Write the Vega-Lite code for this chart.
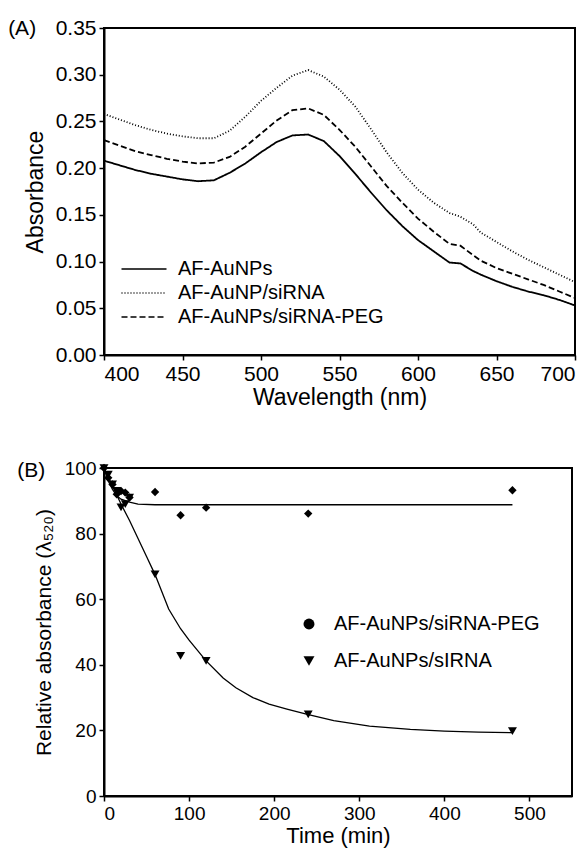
{
  "$schema": "https://vega.github.io/schema/vega-lite/v6.json",
  "background": "white",
  "padding": {"left": 7, "top": 16, "right": 5, "bottom": 5},
  "spacing": 48,
  "resolve": {"legend": {"shape": "independent", "strokeDash": "independent"}},
  "config": {
    "font": "Liberation Sans",
    "view": {"stroke": "black", "strokeWidth": 2},
    "axis": {"domainColor": "black", "domainWidth": 2, "tickColor": "black", "tickWidth": 1.5, "tickSize": 5, "labelColor": "black", "titleColor": "black", "labelFontSize": 20, "titleFontSize": 22, "titleFontWeight": "normal", "grid": false, "labelFont": "Liberation Sans", "titleFont": "Liberation Sans", "labelPadding": 3},
    "legend": {"labelFont": "Liberation Sans", "labelFontSize": 20, "labelColor": "black", "labelLimit": 0},
    "title": {"font": "Liberation Sans", "fontSize": 21, "fontWeight": "normal", "color": "black"}
  },
  "datasets": {
    "spectra": [
      {"w": 400, "a": 0.208, "s": "AF-AuNPs"}, {"w": 410, "a": 0.203, "s": "AF-AuNPs"}, {"w": 420, "a": 0.198, "s": "AF-AuNPs"}, {"w": 430, "a": 0.194, "s": "AF-AuNPs"}, {"w": 440, "a": 0.191, "s": "AF-AuNPs"}, {"w": 450, "a": 0.188, "s": "AF-AuNPs"}, {"w": 460, "a": 0.186, "s": "AF-AuNPs"}, {"w": 470, "a": 0.187, "s": "AF-AuNPs"}, {"w": 480, "a": 0.195, "s": "AF-AuNPs"}, {"w": 490, "a": 0.205, "s": "AF-AuNPs"}, {"w": 500, "a": 0.217, "s": "AF-AuNPs"}, {"w": 510, "a": 0.228, "s": "AF-AuNPs"}, {"w": 520, "a": 0.235, "s": "AF-AuNPs"}, {"w": 530, "a": 0.236, "s": "AF-AuNPs"}, {"w": 540, "a": 0.229, "s": "AF-AuNPs"}, {"w": 550, "a": 0.213, "s": "AF-AuNPs"}, {"w": 560, "a": 0.194, "s": "AF-AuNPs"}, {"w": 570, "a": 0.174, "s": "AF-AuNPs"}, {"w": 580, "a": 0.155, "s": "AF-AuNPs"}, {"w": 590, "a": 0.138, "s": "AF-AuNPs"}, {"w": 600, "a": 0.123, "s": "AF-AuNPs"}, {"w": 610, "a": 0.111, "s": "AF-AuNPs"}, {"w": 620, "a": 0.099, "s": "AF-AuNPs"}, {"w": 627, "a": 0.098, "s": "AF-AuNPs"}, {"w": 635, "a": 0.09, "s": "AF-AuNPs"}, {"w": 640, "a": 0.086, "s": "AF-AuNPs"}, {"w": 650, "a": 0.079, "s": "AF-AuNPs"}, {"w": 660, "a": 0.073, "s": "AF-AuNPs"}, {"w": 670, "a": 0.068, "s": "AF-AuNPs"}, {"w": 680, "a": 0.064, "s": "AF-AuNPs"}, {"w": 690, "a": 0.059, "s": "AF-AuNPs"}, {"w": 700, "a": 0.053, "s": "AF-AuNPs"},
      {"w": 400, "a": 0.258, "s": "AF-AuNP/siRNA"}, {"w": 410, "a": 0.252, "s": "AF-AuNP/siRNA"}, {"w": 420, "a": 0.246, "s": "AF-AuNP/siRNA"}, {"w": 430, "a": 0.241, "s": "AF-AuNP/siRNA"}, {"w": 440, "a": 0.237, "s": "AF-AuNP/siRNA"}, {"w": 450, "a": 0.234, "s": "AF-AuNP/siRNA"}, {"w": 460, "a": 0.232, "s": "AF-AuNP/siRNA"}, {"w": 470, "a": 0.232, "s": "AF-AuNP/siRNA"}, {"w": 480, "a": 0.24, "s": "AF-AuNP/siRNA"}, {"w": 490, "a": 0.255, "s": "AF-AuNP/siRNA"}, {"w": 500, "a": 0.272, "s": "AF-AuNP/siRNA"}, {"w": 510, "a": 0.286, "s": "AF-AuNP/siRNA"}, {"w": 520, "a": 0.299, "s": "AF-AuNP/siRNA"}, {"w": 530, "a": 0.305, "s": "AF-AuNP/siRNA"}, {"w": 540, "a": 0.298, "s": "AF-AuNP/siRNA"}, {"w": 550, "a": 0.284, "s": "AF-AuNP/siRNA"}, {"w": 560, "a": 0.266, "s": "AF-AuNP/siRNA"}, {"w": 570, "a": 0.242, "s": "AF-AuNP/siRNA"}, {"w": 580, "a": 0.217, "s": "AF-AuNP/siRNA"}, {"w": 590, "a": 0.195, "s": "AF-AuNP/siRNA"}, {"w": 600, "a": 0.177, "s": "AF-AuNP/siRNA"}, {"w": 610, "a": 0.163, "s": "AF-AuNP/siRNA"}, {"w": 620, "a": 0.152, "s": "AF-AuNP/siRNA"}, {"w": 627, "a": 0.148, "s": "AF-AuNP/siRNA"}, {"w": 635, "a": 0.14, "s": "AF-AuNP/siRNA"}, {"w": 640, "a": 0.131, "s": "AF-AuNP/siRNA"}, {"w": 650, "a": 0.121, "s": "AF-AuNP/siRNA"}, {"w": 660, "a": 0.111, "s": "AF-AuNP/siRNA"}, {"w": 670, "a": 0.102, "s": "AF-AuNP/siRNA"}, {"w": 680, "a": 0.094, "s": "AF-AuNP/siRNA"}, {"w": 690, "a": 0.086, "s": "AF-AuNP/siRNA"}, {"w": 700, "a": 0.078, "s": "AF-AuNP/siRNA"},
      {"w": 400, "a": 0.23, "s": "AF-AuNPs/siRNA-PEG"}, {"w": 410, "a": 0.224, "s": "AF-AuNPs/siRNA-PEG"}, {"w": 420, "a": 0.218, "s": "AF-AuNPs/siRNA-PEG"}, {"w": 430, "a": 0.214, "s": "AF-AuNPs/siRNA-PEG"}, {"w": 440, "a": 0.21, "s": "AF-AuNPs/siRNA-PEG"}, {"w": 450, "a": 0.207, "s": "AF-AuNPs/siRNA-PEG"}, {"w": 460, "a": 0.205, "s": "AF-AuNPs/siRNA-PEG"}, {"w": 470, "a": 0.206, "s": "AF-AuNPs/siRNA-PEG"}, {"w": 480, "a": 0.212, "s": "AF-AuNPs/siRNA-PEG"}, {"w": 490, "a": 0.223, "s": "AF-AuNPs/siRNA-PEG"}, {"w": 500, "a": 0.237, "s": "AF-AuNPs/siRNA-PEG"}, {"w": 510, "a": 0.251, "s": "AF-AuNPs/siRNA-PEG"}, {"w": 520, "a": 0.262, "s": "AF-AuNPs/siRNA-PEG"}, {"w": 530, "a": 0.264, "s": "AF-AuNPs/siRNA-PEG"}, {"w": 540, "a": 0.257, "s": "AF-AuNPs/siRNA-PEG"}, {"w": 550, "a": 0.241, "s": "AF-AuNPs/siRNA-PEG"}, {"w": 560, "a": 0.223, "s": "AF-AuNPs/siRNA-PEG"}, {"w": 570, "a": 0.202, "s": "AF-AuNPs/siRNA-PEG"}, {"w": 580, "a": 0.181, "s": "AF-AuNPs/siRNA-PEG"}, {"w": 590, "a": 0.163, "s": "AF-AuNPs/siRNA-PEG"}, {"w": 600, "a": 0.146, "s": "AF-AuNPs/siRNA-PEG"}, {"w": 610, "a": 0.132, "s": "AF-AuNPs/siRNA-PEG"}, {"w": 620, "a": 0.119, "s": "AF-AuNPs/siRNA-PEG"}, {"w": 627, "a": 0.117, "s": "AF-AuNPs/siRNA-PEG"}, {"w": 635, "a": 0.107, "s": "AF-AuNPs/siRNA-PEG"}, {"w": 640, "a": 0.101, "s": "AF-AuNPs/siRNA-PEG"}, {"w": 650, "a": 0.093, "s": "AF-AuNPs/siRNA-PEG"}, {"w": 660, "a": 0.087, "s": "AF-AuNPs/siRNA-PEG"}, {"w": 670, "a": 0.081, "s": "AF-AuNPs/siRNA-PEG"}, {"w": 680, "a": 0.075, "s": "AF-AuNPs/siRNA-PEG"}, {"w": 690, "a": 0.068, "s": "AF-AuNPs/siRNA-PEG"}, {"w": 700, "a": 0.061, "s": "AF-AuNPs/siRNA-PEG"}
    ],
    "fits": [
      {"t": 0, "v": 100, "s": "AF-AuNPs/siRNA-PEG"}, {"t": 5, "v": 96, "s": "AF-AuNPs/siRNA-PEG"}, {"t": 10, "v": 93.5, "s": "AF-AuNPs/siRNA-PEG"}, {"t": 15, "v": 91.5, "s": "AF-AuNPs/siRNA-PEG"}, {"t": 20, "v": 90.5, "s": "AF-AuNPs/siRNA-PEG"}, {"t": 30, "v": 89.6, "s": "AF-AuNPs/siRNA-PEG"}, {"t": 40, "v": 89, "s": "AF-AuNPs/siRNA-PEG"}, {"t": 60, "v": 88.8, "s": "AF-AuNPs/siRNA-PEG"}, {"t": 480, "v": 88.8, "s": "AF-AuNPs/siRNA-PEG"},
      {"t": 0, "v": 100, "s": "AF-AuNPs/sIRNA"}, {"t": 10, "v": 94.5, "s": "AF-AuNPs/sIRNA"}, {"t": 20, "v": 89, "s": "AF-AuNPs/sIRNA"}, {"t": 30, "v": 84, "s": "AF-AuNPs/sIRNA"}, {"t": 40, "v": 78.5, "s": "AF-AuNPs/sIRNA"}, {"t": 50, "v": 73, "s": "AF-AuNPs/sIRNA"}, {"t": 60, "v": 67.5, "s": "AF-AuNPs/sIRNA"}, {"t": 76, "v": 57, "s": "AF-AuNPs/sIRNA"}, {"t": 90, "v": 51, "s": "AF-AuNPs/sIRNA"}, {"t": 100, "v": 47.5, "s": "AF-AuNPs/sIRNA"}, {"t": 120, "v": 41.2, "s": "AF-AuNPs/sIRNA"}, {"t": 140, "v": 36, "s": "AF-AuNPs/sIRNA"}, {"t": 155, "v": 33, "s": "AF-AuNPs/sIRNA"}, {"t": 175, "v": 30, "s": "AF-AuNPs/sIRNA"}, {"t": 194, "v": 28, "s": "AF-AuNPs/sIRNA"}, {"t": 215, "v": 26.5, "s": "AF-AuNPs/sIRNA"}, {"t": 239, "v": 24.9, "s": "AF-AuNPs/sIRNA"}, {"t": 270, "v": 23, "s": "AF-AuNPs/sIRNA"}, {"t": 312, "v": 21.3, "s": "AF-AuNPs/sIRNA"}, {"t": 360, "v": 20.3, "s": "AF-AuNPs/sIRNA"}, {"t": 400, "v": 19.8, "s": "AF-AuNPs/sIRNA"}, {"t": 440, "v": 19.5, "s": "AF-AuNPs/sIRNA"}, {"t": 480, "v": 19.3, "s": "AF-AuNPs/sIRNA"}
    ],
    "points": [
      {"t": 0, "v": 100, "s": "AF-AuNPs/siRNA-PEG"}, {"t": 5, "v": 97, "s": "AF-AuNPs/siRNA-PEG"}, {"t": 10, "v": 95, "s": "AF-AuNPs/siRNA-PEG"}, {"t": 15, "v": 92, "s": "AF-AuNPs/siRNA-PEG"}, {"t": 20, "v": 93, "s": "AF-AuNPs/siRNA-PEG"}, {"t": 25, "v": 92.5, "s": "AF-AuNPs/siRNA-PEG"}, {"t": 30, "v": 91, "s": "AF-AuNPs/siRNA-PEG"}, {"t": 60, "v": 92.7, "s": "AF-AuNPs/siRNA-PEG"}, {"t": 90, "v": 85.6, "s": "AF-AuNPs/siRNA-PEG"}, {"t": 120, "v": 87.9, "s": "AF-AuNPs/siRNA-PEG"}, {"t": 240, "v": 86.1, "s": "AF-AuNPs/siRNA-PEG"}, {"t": 480, "v": 93.2, "s": "AF-AuNPs/siRNA-PEG"},
      {"t": 0, "v": 100, "s": "AF-AuNPs/sIRNA"}, {"t": 5, "v": 98, "s": "AF-AuNPs/sIRNA"}, {"t": 10, "v": 95, "s": "AF-AuNPs/sIRNA"}, {"t": 15, "v": 93, "s": "AF-AuNPs/sIRNA"}, {"t": 20, "v": 88, "s": "AF-AuNPs/sIRNA"}, {"t": 25, "v": 89, "s": "AF-AuNPs/sIRNA"}, {"t": 30, "v": 91, "s": "AF-AuNPs/sIRNA"}, {"t": 60, "v": 67.6, "s": "AF-AuNPs/sIRNA"}, {"t": 90, "v": 42.7, "s": "AF-AuNPs/sIRNA"}, {"t": 120, "v": 41.2, "s": "AF-AuNPs/sIRNA"}, {"t": 240, "v": 24.9, "s": "AF-AuNPs/sIRNA"}, {"t": 480, "v": 19.8, "s": "AF-AuNPs/sIRNA"}
    ]
  },
  "vconcat": [
    {
      "width": 471,
      "height": 327,
      "title": {"text": "(A)", "anchor": "start", "frame": "bounds", "offset": -22, "dx": -16},
      "data": {"name": "spectra"},
      "mark": {"type": "line", "color": "black", "strokeWidth": 1.8},
      "encoding": {
        "x": {"field": "w", "type": "quantitative", "scale": {"domain": [400, 700], "nice": false}, "axis": {"values": [400, 450, 500, 550, 600, 650, 700], "title": "Wavelength (nm)", "titlePadding": 2, "labelFontSize": 21, "titleFontSize": 23}},
        "y": {"field": "a", "type": "quantitative", "scale": {"domain": [0, 0.35], "nice": false}, "axis": {"values": [0, 0.05, 0.1, 0.15, 0.2, 0.25, 0.3, 0.35], "format": ".2f", "title": "Absorbance", "titlePadding": 8, "labelFontSize": 21, "titleFontSize": 23}},
        "strokeDash": {
          "field": "s", "type": "nominal",
          "scale": {"domain": ["AF-AuNPs", "AF-AuNP/siRNA", "AF-AuNPs/siRNA-PEG"], "range": [[1, 0], [1, 2], [6, 3]]},
          "legend": {"title": null, "orient": "none", "legendX": 30, "legendY": 231, "symbolType": "M-3,0H3", "symbolSize": 225, "symbolStrokeColor": "black", "symbolStrokeWidth": 1.5, "rowPadding": 4, "labelOffset": 24, "labelFontSize": 20}
        },
        "strokeWidth": {"field": "s", "type": "nominal", "scale": {"domain": ["AF-AuNPs", "AF-AuNP/siRNA", "AF-AuNPs/siRNA-PEG"], "range": [1.8, 1, 2]}, "legend": null}
      }
    },
    {
      "width": 468,
      "height": 328,
      "title": {"text": "(B)", "anchor": "start", "frame": "bounds", "offset": -22, "dx": -16},
      "layer": [
        {
          "data": {"name": "fits"},
          "mark": {"type": "line", "color": "black", "strokeWidth": 1.3},
          "encoding": {
            "x": {"field": "t", "type": "quantitative", "scale": {"domain": [0, 550], "nice": false}, "axis": {"values": [0, 100, 200, 300, 400, 500], "title": "Time (min)", "titlePadding": 2, "labelFontSize": 19, "titleFontSize": 22}},
            "y": {"field": "v", "type": "quantitative", "scale": {"domain": [0, 100], "nice": false}, "axis": {"values": [0, 20, 40, 60, 80, 100], "title": "Relative absorbance (λ₅₂₀)", "titlePadding": 10, "labelFontSize": 19, "titleFontSize": 21}},
            "detail": {"field": "s", "type": "nominal"}
          }
        },
        {
          "data": {"name": "points"},
          "transform": [{"filter": "datum.s === 'AF-AuNPs/siRNA-PEG'"}],
          "mark": {"type": "point", "shape": "diamond", "filled": true, "color": "black", "opacity": 1, "size": 70},
          "encoding": {
            "x": {"field": "t", "type": "quantitative"},
            "y": {"field": "v", "type": "quantitative"}
          }
        },
        {
          "data": {"name": "points"},
          "transform": [{"filter": "datum.s === 'AF-AuNPs/sIRNA'"}],
          "mark": {"type": "point", "filled": true, "color": "black", "opacity": 1, "size": 80},
          "encoding": {
            "x": {"field": "t", "type": "quantitative"},
            "y": {"field": "v", "type": "quantitative"},
            "shape": {
              "field": "s", "type": "nominal",
              "scale": {"domain": ["AF-AuNPs/siRNA-PEG", "AF-AuNPs/sIRNA"], "range": ["circle", "triangle-down"]},
              "legend": {"title": null, "orient": "none", "legendX": 195, "legendY": 146, "symbolSize": 120, "symbolFillColor": "black", "symbolStrokeColor": "black", "rowPadding": 17, "labelOffset": 15, "labelFontSize": 20}
            }
          }
        }
      ]
    }
  ]
}
